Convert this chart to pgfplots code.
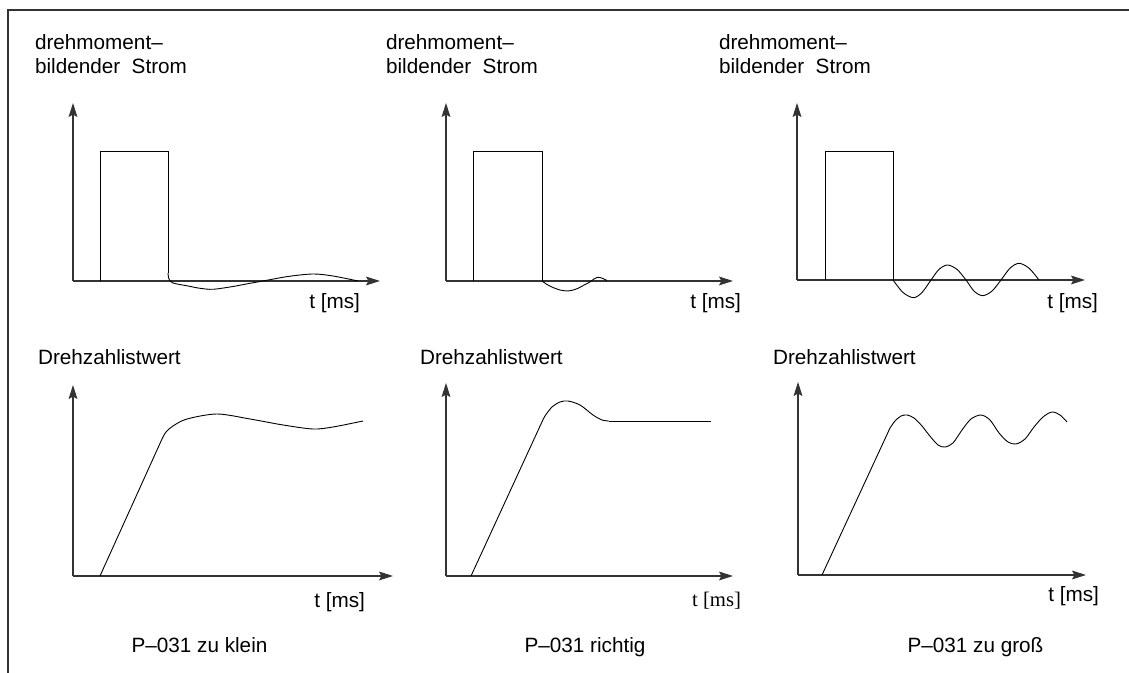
\documentclass[border=0pt]{standalone}
\usepackage{fontspec}
\setmainfont{Liberation Sans}
\newfontfamily\seriffont{Liberation Serif}
\usepackage{pgfplots}
\pgfplotsset{compat=1.18}
\usetikzlibrary{arrows.meta}
\newcommand\fs{\fontsize{10.35}{12.4}\selectfont}
\pgfplotsset{
  sk/.style={scale only axis, anchor=south west, axis lines=left,
    xtick=\empty, ytick=\empty, enlargelimits=false, clip=false,
    xmin=0, ymin=0,
    axis line style={line width=0.55pt, black!80, -{Stealth[length=7pt,width=4.4pt,inset=1.2pt]}}},
  pl/.style={black, line width=0.45pt, mark=none},
}
\begin{document}
\begin{tikzpicture}[font=\fs]
\path[use as bounding box] (0,0) rectangle (564.5pt,336.5pt);
\draw[line width=1pt, black!80, line join=miter] (3.75pt,0pt) -- (3.75pt,331.5pt) -- (564.5pt,331.5pt);

% ---------- top row: drehmomentbildender Strom ----------
\begin{axis}[sk, at={(36.5pt,196pt)}, width=153.5pt, height=89pt, xmax=307, ymax=178]
\addplot[pl] coordinates {(27,0) (27,130) (95,130) (95,8)};
\addplot[pl, smooth] coordinates {(95,8) (96,2) (100,-2) (115,-5) (127,-7.3) (140,-8.3) (160,-5.5) (177,-2.3) (190,0) (215,4.5) (240,7) (260,5) (285,0)};
\node[anchor=base west] at (axis cs:-45,231) {drehmoment--};
\node[anchor=base west] at (axis cs:-45,207) {bildender\ \ Strom};
\node[anchor=base east] at (axis cs:294,-28) {t [ms]};
\end{axis}

\begin{axis}[sk, at={(223pt,196pt)}, width=143.5pt, height=89pt, xmax=287, ymax=178]
\addplot[pl] coordinates {(27.5,0) (27.5,130) (96,130) (96,0)};
\addplot[pl, smooth] coordinates {(96,0) (101,-3.5) (107,-6.5) (114,-9) (122,-10) (129,-8.5) (134,-6.3) (139,-3.5) (144,-1) (148,2) (152,3.7) (156,2.8) (161,0.5)};
\node[anchor=base west] at (axis cs:-67,231) {drehmoment--};
\node[anchor=base west] at (axis cs:-67,207) {bildender\ \ Strom};
\node[anchor=base east] at (axis cs:302,-28) {t [ms]};
\end{axis}

\begin{axis}[sk, at={(398.5pt,196.5pt)}, width=144pt, height=88.5pt, xmax=288, ymax=177]
\addplot[pl] coordinates {(28,0) (28,129) (96,129) (96,0)};
\addplot[pl, smooth] coordinates {(96,0) (106,-12.5) (116.5,-17.7) (125,-12.5) (134,0) (142,10.6) (150.5,15) (160,10.6) (169,0) (177,-11.1) (185.5,-15.7) (195,-11.1) (204,0) (213,11.8) (222,16.7) (232,11.8) (242,0)};
\node[anchor=base west] at (axis cs:-85,230) {drehmoment--};
\node[anchor=base west] at (axis cs:-85,206) {bildender\ \ Strom};
\node[anchor=base east] at (axis cs:308,-29) {t [ms]};
\end{axis}

% ---------- bottom row: Drehzahlistwert ----------
\begin{axis}[sk, at={(36.5pt,48.5pt)}, width=160pt, height=95.5pt, xmax=320, ymax=191]
\addplot[pl] coordinates {(27,0) (89,137)};
\addplot[pl, smooth] coordinates {(89,137) (93,144) (100,150) (114,157) (144,162) (177,157) (210,151) (240,147) (260,149) (290,155)};
\node[anchor=base west] at (axis cs:-42,211) {Drehzahlistwert};
\node[anchor=base east] at (axis cs:299,-32) {t [ms]};
\node[anchor=base] at (axis cs:126.5,-77) {P--031 zu klein};
\end{axis}

\begin{axis}[sk, at={(223pt,48.5pt)}, width=143.5pt, height=96.5pt, xmax=287, ymax=193]
\addplot[pl] coordinates {(25,0) (95,152)};
\addplot[pl, smooth] coordinates {(95,152) (99,160) (106,169) (114,174) (122,175) (134,171) (147,161) (156,156) (163,155)};
\addplot[pl] coordinates {(163,155) (265,155)};
\node[anchor=base west] at (axis cs:-33,211) {Drehzahlistwert};
\node[anchor=base east] at (axis cs:302,-31) {\seriffont t [ms]};
\node[anchor=base] at (axis cs:139,-77) {P--031 richtig};
\end{axis}

\begin{axis}[sk, at={(399pt,49pt)}, width=144pt, height=96.5pt, xmax=288, ymax=193]
\addplot[pl] coordinates {(24,0) (92,147)};
\addplot[pl, smooth] coordinates {(92,147) (97,154) (103,159) (109,160) (116,157) (124,149) (131,140) (140,130) (147,128) (155,132) (164,145) (173,156) (183,160) (192,155) (201,142) (210,133) (218,131) (227,136) (236,148) (245,158) (254,163) (262,160) (269,153)};
\node[anchor=base west] at (axis cs:-32,210) {Drehzahlistwert};
\node[anchor=base east] at (axis cs:308,-27) {t [ms]};
\node[anchor=base] at (axis cs:177.5,-78) {P--031 zu groß};
\end{axis}
\end{tikzpicture}
\end{document}
